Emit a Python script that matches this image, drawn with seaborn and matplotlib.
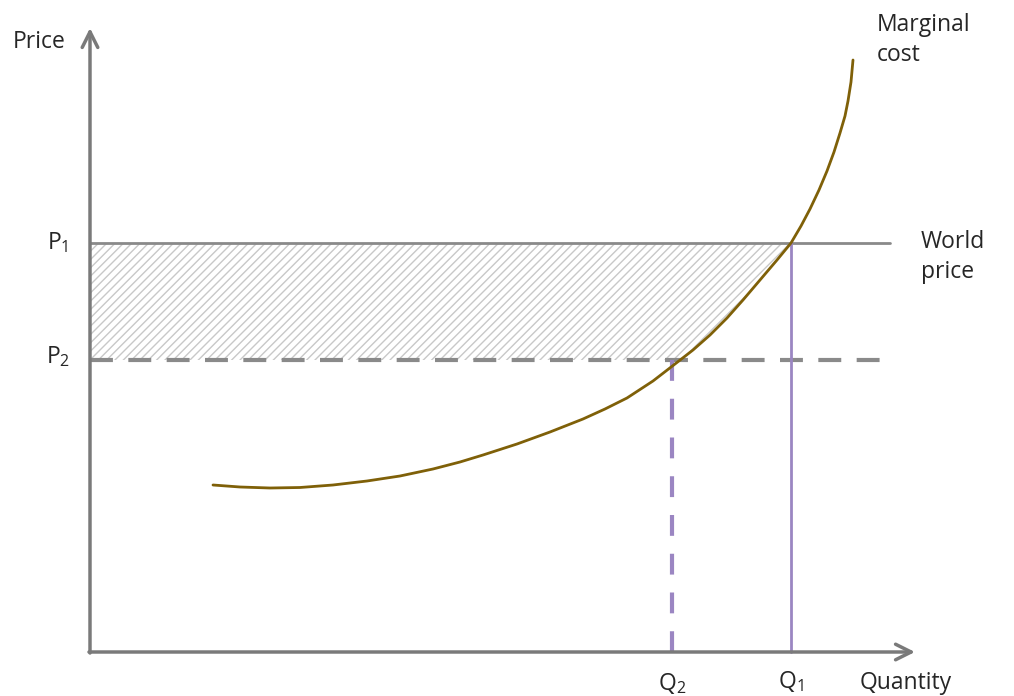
import pandas as pd
import seaborn as sns
import matplotlib.pyplot as plt

# coordenadas (pixeles, y hacia abajo)
mc_x = [213, 240, 270, 300, 333, 367, 400, 433, 460, 483, 517, 550, 583, 605, 627, 653, 675,
        693, 710, 727, 743, 760, 777, 791, 801, 810, 819, 827, 834, 840, 845, 848, 851, 853]
mc_y = [485, 487, 488, 487.5, 485, 481, 476, 469, 462, 455, 444, 432, 419, 409, 398, 381, 364,
        350, 335, 318, 300, 280, 260, 243, 226, 209, 190, 171, 152, 133, 116, 101, 82, 60]

origin = (90, 652)
axis_end_x = 915
axis_end_y = 28
p1, p2 = 243, 360
q1, q2 = 791, 672
line_end_x = 890

price_labels = ['P$_1$', 'P$_2$']
qty_labels = ['Q$_2$', 'Q$_1$']

sns.set_style('white')
plt.rcParams['font.family'] = ['Open Sans', 'DejaVu Sans']
plt.rcParams['mathtext.fontset'] = 'custom'
plt.rcParams['mathtext.rm'] = 'Open Sans'
plt.rcParams['mathtext.it'] = 'Open Sans'

fig = plt.figure(figsize=(10.14, 6.96), dpi=100)
ax = fig.add_axes([0, 0, 1, 1])
ax.set_xlim(0, 1014)
ax.set_ylim(696, 0)
ax.axis('off')

mc = pd.DataFrame({'x': mc_x, 'y': mc_y})

# área rayada entre P2 y P1
band = mc[(mc.y <= p2 + 4) & (mc.y >= p1)]
band_y = [p2] + list(band.y)
band_x = [q2 + 2] + list(band.x)
ax.fill_betweenx(band_y, origin[0], band_x, facecolor='none', edgecolor='#c8c8c8',
                 hatch='////', linewidth=0, zorder=1)

gray = '#8a8a8a'
purple = '#9b86c2'

def seg(xs, ys, **kw):
    sns.lineplot(x=xs, y=ys, estimator=None, sort=False, ax=ax, **kw)

# precio mundial y P2
seg([origin[0], line_end_x], [p1, p1], color=gray, lw=2)
seg([origin[0], line_end_x], [p2, p2], color=gray, lw=3, linestyle=(0, (5.5, 3.7)))

# cantidades
seg([q1, q1], [p1, origin[1]], color=purple, lw=2)
seg([q2, q2], [p2, origin[1]], color=purple, lw=3, linestyle=(0, (5, 4.3)))

# costo marginal
sns.lineplot(data=mc, x='x', y='y', sort=False, estimator=None,
             color='#7f6008', lw=2, ax=ax)

# ejes con flechas
ax.annotate('', xy=(axis_end_x, origin[1]), xytext=(origin[0] - 1, origin[1]),
            arrowprops=dict(arrowstyle='->', lw=2.5, color='#7a7a7a',
                            mutation_scale=28, shrinkA=0, shrinkB=0))
ax.annotate('', xy=(origin[0], axis_end_y), xytext=(origin[0], origin[1] + 1),
            arrowprops=dict(arrowstyle='->', lw=2.5, color='#7a7a7a',
                            mutation_scale=28, shrinkA=0, shrinkB=0))

fs = 16.5
ax.text(13, 42, 'Price', fontsize=fs, va='center', ha='left')
ax.text(58, p1, price_labels[0], fontsize=fs, va='center', ha='center')
ax.text(58, p2 - 3, price_labels[1], fontsize=fs, va='center', ha='center')
ax.text(q2, 683, qty_labels[0], fontsize=fs, va='center', ha='center')
ax.text(q1, 681, qty_labels[1], fontsize=fs, va='center', ha='center')
ax.text(860, 683, 'Quantity', fontsize=fs, va='center', ha='left')
ax.text(877, 40, 'Marginal\ncost', fontsize=fs, va='center', ha='left', linespacing=1.3)
ax.text(921, 257, 'World\nprice', fontsize=fs, va='center', ha='left', linespacing=1.3)

fig.savefig('out.png', dpi=100)
